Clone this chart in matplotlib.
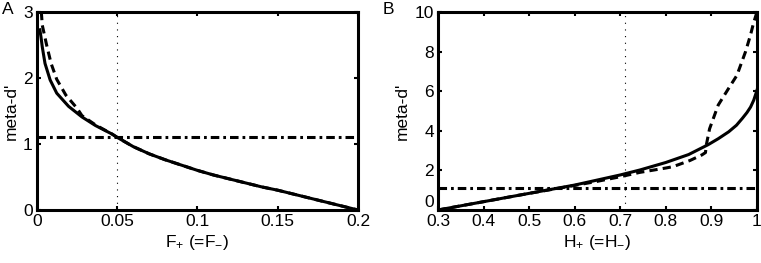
import matplotlib
matplotlib.use("Agg")
import matplotlib.pyplot as plt

plt.rcParams['font.family'] = ['Liberation Sans', 'DejaVu Sans']
plt.rcParams['mathtext.fontset'] = 'custom'
plt.rcParams['mathtext.rm'] = 'Liberation Sans'
plt.rcParams['mathtext.it'] = 'Liberation Sans'

# Panel A data
a_solid_x = [0.0018, 0.0025, 0.0033, 0.005, 0.0082, 0.0123, 0.0197, 0.028, 0.0364, 0.0468, 0.05,
             0.06, 0.07, 0.08, 0.09, 0.1, 0.11, 0.12, 0.13, 0.14, 0.15, 0.16, 0.17, 0.18, 0.19, 0.2]
a_solid_y = [2.73, 2.62, 2.47, 2.22, 1.97, 1.77, 1.57, 1.41, 1.28, 1.15, 1.1,
             0.96, 0.85, 0.76, 0.68, 0.6, 0.53, 0.47, 0.41, 0.35, 0.3, 0.24, 0.18, 0.12, 0.06, 0.0]
a_dash_x = [0.0027, 0.0033, 0.006, 0.0088, 0.0123, 0.018, 0.025, 0.028, 0.0364, 0.0468, 0.05,
            0.06, 0.07, 0.08, 0.09, 0.1, 0.11, 0.12, 0.13, 0.14, 0.15, 0.16, 0.17, 0.18, 0.19, 0.2]
a_dash_y = [3.0, 2.8, 2.5, 2.22, 1.98, 1.74, 1.54, 1.43, 1.29, 1.15, 1.1,
            0.96, 0.85, 0.76, 0.68, 0.6, 0.53, 0.47, 0.41, 0.35, 0.3, 0.24, 0.18, 0.12, 0.06, 0.0]
a_hline = 1.1
a_vline = 0.05

# Panel B data
b_solid_x = [0.3, 0.4, 0.5, 0.6, 0.7, 0.743, 0.8, 0.85, 0.893, 0.915, 0.938, 0.955, 0.968,
             0.978, 0.986, 0.993, 0.998, 1.0]
b_solid_y = [0.0, 0.42, 0.84, 1.26, 1.77, 2.02, 2.4, 2.8, 3.3, 3.6, 3.95, 4.28, 4.63,
             4.92, 5.2, 5.55, 5.9, 6.05]
b_dash_x = [0.3, 0.4, 0.5, 0.6, 0.65, 0.7, 0.743, 0.8, 0.816, 0.853, 0.879, 0.887, 0.889, 0.896,
            0.915, 0.938, 0.956, 0.975, 0.986, 0.992, 1.0]
b_dash_y = [0.0, 0.42, 0.84, 1.24, 1.45, 1.68, 1.9, 2.12, 2.19, 2.5, 2.78, 2.9, 3.3, 4.1,
            5.3, 6.15, 6.8, 8.0, 8.85, 9.4, 10.0]
b_hline = 1.1
b_vline = 0.71

FS = 12.5
fig = plt.figure(figsize=(7.61, 2.63), dpi=100)
axA = fig.add_axes([0.0486, 0.2015, 0.4218, 0.753])
axB = fig.add_axes([0.5755, 0.2015, 0.4192, 0.753])

def style(ax):
    for s in ax.spines.values():
        s.set_linewidth(2.2)
    ax.tick_params(direction='in', top=True, right=True, length=3, width=1.5,
                   labelsize=FS, pad=3)

lw = 2.2
dash = (0, (2.7, 1.7))
dashdot = (0, (2.8, 1.3, 0.9, 1.3))
dot = (0, (1, 5))

axA.plot(a_solid_x, a_solid_y, color='black', lw=lw)
axA.plot(a_dash_x, a_dash_y, color='black', lw=lw, ls=dash)
axA.axhline(a_hline, color='black', lw=lw, ls=dashdot)
axA.axvline(a_vline, color='black', lw=0.8, ls=dot)
axA.set_xlim(0, 0.2)
axA.set_ylim(0, 3)
axA.set_xticks([0, 0.05, 0.1, 0.15, 0.2])
axA.set_xticklabels(['0', '0.05', '0.1', '0.15', '0.2'])
axA.set_yticks([0, 1, 2, 3])
axA.set_ylabel("meta-d'", fontsize=FS, labelpad=3)
axA.set_xlabel(r"F$_{+}$ (=F$_{-}$)", fontsize=FS, labelpad=3)
style(axA)

axB.plot(b_solid_x, b_solid_y, color='black', lw=lw)
axB.plot(b_dash_x, b_dash_y, color='black', lw=lw, ls=dash)
axB.axhline(b_hline, color='black', lw=lw, ls=dashdot)
axB.axvline(b_vline, color='black', lw=0.8, ls=dot)
axB.set_xlim(0.3, 1)
axB.set_ylim(0, 10)
axB.set_xticks([0.3, 0.4, 0.5, 0.6, 0.7, 0.8, 0.9, 1.0])
axB.set_xticklabels(['0.3', '0.4', '0.5', '0.6', '0.7', '0.8', '0.9', '1'])
axB.set_yticks([0, 2, 4, 6, 8, 10])
axB.set_ylabel("meta-d'", fontsize=FS, labelpad=3)
axB.set_xlabel(r"H$_{+}$ (=H$_{-}$)", fontsize=FS, labelpad=3)
style(axB)
# nudge the lowest y tick label up slightly so it clears the first x tick label
for lab in axB.get_yticklabels()[:1]:
    lab.set_verticalalignment('bottom')

fig.text(0.003, 0.965, 'A', fontsize=FS, va='center', ha='left')
fig.text(0.503, 0.965, 'B', fontsize=FS, va='center', ha='left')

fig.savefig('out.png', dpi=100)
